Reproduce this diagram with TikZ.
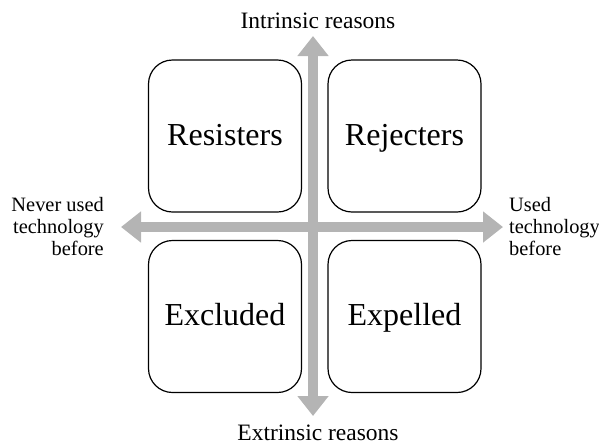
\documentclass[tikz,border=0pt]{standalone}
\usepackage{fontspec}
\setmainfont{Liberation Serif}
\usetikzlibrary{arrows.meta}

\tikzset{
  quadrant/.style={draw, line width=1.2pt, rounded corners=24pt,
    minimum width=153pt, minimum height=152pt, inner sep=0pt,
    text height=20pt, text depth=2pt,
    font=\fontsize{32}{36}\selectfont},
  axis/.style={line width=10pt, color=axisgray,
    {Triangle[width=30pt,length=20pt]}-{Triangle[width=30pt,length=20pt]}},
  axislabel/.style={inner sep=0pt, font=\fontsize{23.5}{22}\selectfont},
  sidelabel/.style={inner sep=0pt, font=\fontsize{20.4}{22}\selectfont}
}
\definecolor{axisgray}{RGB}{180,180,180}

\begin{document}
\begin{tikzpicture}[x=1pt, y=-1pt]
  \useasboundingbox (0,0) rectangle (599,445);

  % Vakken
  \node[quadrant] (resisters) at (225,136) {Resisters};
  \node[quadrant] (rejecters) at (404.5,136) {Rejecters};
  \node[quadrant] (excluded)  at (225,316.5) {Excluded};
  \node[quadrant] (expelled)  at (404.5,316.5) {Expelled};

  % Eindpunten van de assen
  \coordinate (top)    at (313,36);
  \coordinate (bottom) at (313,416);
  \coordinate (left)   at (121,227);
  \coordinate (right)  at (503,227);

  % Assen
  \draw[axis] (bottom) -- (top);
  \draw[axis] (left) -- (right);

  % Aslabels
  \node[axislabel, anchor=base] (intrinsic) at (318,28) {Intrinsic reasons};
  \node[axislabel, anchor=base] (extrinsic) at (318,440) {Extrinsic reasons};
  \node[sidelabel, anchor=east, align=right] (never) at (104,227)
    {Never used\\technology\\before};
  \node[sidelabel, anchor=west, align=left] (used) at (509,227)
    {Used\\technology\\before};

\end{tikzpicture}
\end{document}
